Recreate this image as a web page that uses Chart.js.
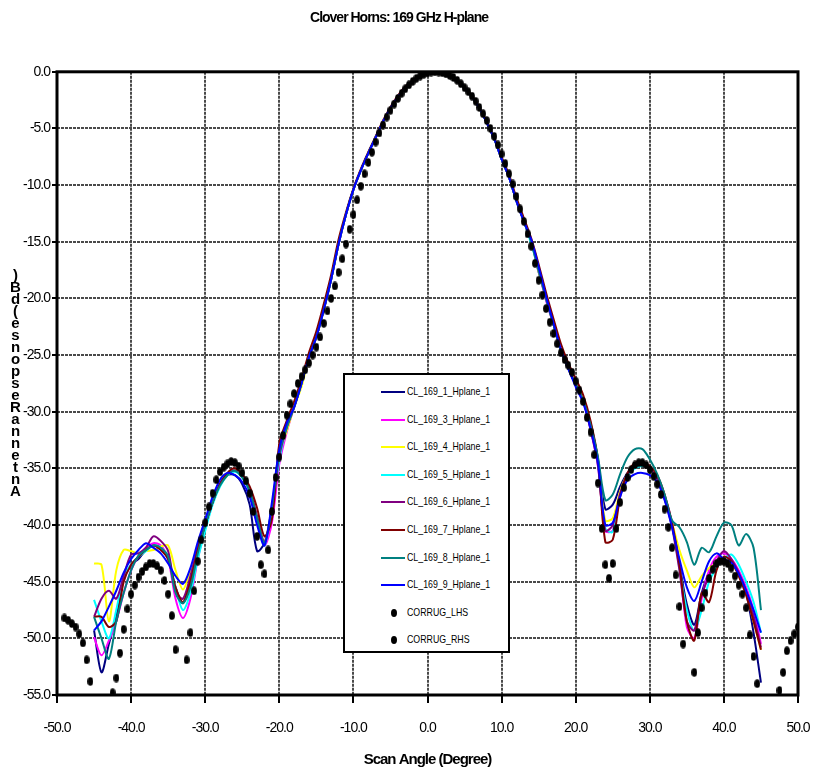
<!DOCTYPE html>
<html>
<head>
<meta charset="utf-8">
<title>Clover Horns: 169 GHz H-plane</title>
<script src="https://cdn.jsdelivr.net/npm/chart.js@4.4.1/dist/chart.umd.min.js"></script>
<style>
  html, body { margin: 0; padding: 0; background: #fff; }
  #wrap { position: relative; width: 815px; height: 775px; }
  #legend {
    position: absolute; left: 343px; top: 373px; width: 167px; height: 280px;
    box-sizing: border-box; border: 2px solid #000; background: #fff;
    font-family: 'Liberation Sans Narrow', 'Arial Narrow', 'Liberation Sans', Arial, sans-serif;
    font-size: 11px; color: #000; padding-top: 3px;
  }
  .item { position: relative; height: 27.6px; }
  .swatch { position: absolute; left: 36px; top: 13px; width: 24px; height: 2px; }
  .dot { position: absolute; left: 46px; top: 10px; width: 6px; height: 8px; border-radius: 50%; background: #000; }
  .label { position: absolute; left: 62px; top: 7px; white-space: nowrap; transform: scaleX(0.8); transform-origin: 0 50%; }
</style>
</head>
<body>
<div id="wrap">
  <canvas id="chart" width="815" height="775"></canvas>
  <div id="legend"></div>
</div>
<script>
const fontFamily = "'Liberation Sans Narrow', 'Arial Narrow', 'Liberation Sans', Arial, sans-serif";

const chartTitle = 'Clover Horns: 169 GHz H-plane';
const xAxisTitle = 'Scan Angle (Degree)';
const yAxisTitle = 'Antenna Response (dB)';

// scan angles of the measured horns (deg)
const scanAngles = [
  -45, -44, -43, -42, -41, -40, -39, -38, -37, -36, -35, -34, -33, -32, -31, -30, -29, -28, -27, -26, -25, -24, -23, -22, -21,
  -20, -19, -18, -17, -16, -15, -14, -13, -12, -11, -10, -9, -8, -7, -6, -5, -4, -3, -2, -1, 0, 1, 2, 3, 4, 5, 6, 7, 8, 9, 10,
  11, 12, 13, 14, 15, 16, 17, 18, 19, 20, 21, 22,
  23, 24, 25, 26, 27, 28, 29, 30, 31, 32, 33, 34, 35, 36, 37, 38, 39, 40, 41, 42, 43, 44, 45
];

const cl1 = [
  -49.3, -53.0, -50.5, -48.0, -44.8, -43.5, -43.0, -42.2, -41.8, -42.0, -43.0, -45.5, -46.9, -45.0, -42.0, -40.0, -38.0, -36.5, -35.6, -35.6, -36.4, -38.2, -42.3, -41.6, -38.5,
  -34.2, -31.4, -29.6, -27.5, -25.2, -23.4, -21.0, -18.3, -15.2, -12.6, -10.4, -8.7, -7.2, -5.8, -4.4, -3.2, -2.2, -1.4, -0.8, -0.35, -0.1, 0, -0.1, -0.35, -0.8, -1.4, -2.2, -3.2, -4.5, -5.9, -7.7,
  -9.3, -11.4, -13.2, -15.0, -17.7, -20.0, -22.3, -24.6, -26.2, -27.6, -29.0, -31.0,
  -34.2, -38.6, -38.2, -36.6, -35.4, -34.9, -34.8, -35.0, -35.9, -37.6, -40.0, -43.5, -47.0, -48.8, -46.0, -44.2, -43.5, -43.3, -43.5, -44.2, -46.0, -49.5, -53.9
];
const cl3 = [
  -49.9, -51.5, -50.2, -48.5, -46.0, -44.0, -42.7, -42.0, -41.6, -41.8, -43.0, -46.5, -48.2, -46.5, -43.0, -40.2, -38.0, -36.4, -35.5, -35.2, -35.7, -37.0, -39.4, -41.8, -39.8,
  -34.6, -31.8, -29.6, -27.5, -25.2, -23.4, -21.0, -18.3, -15.2, -12.6, -10.4, -8.7, -7.2, -5.8, -4.4, -3.2, -2.2, -1.4, -0.8, -0.35, -0.1, 0, -0.1, -0.35, -0.8, -1.4, -2.2, -3.2, -4.5, -5.9, -7.7,
  -9.3, -11.4, -13.2, -15.0, -17.5, -20.2, -22.3, -24.6, -26.2, -27.6, -29.0, -31.5,
  -34.8, -40.5, -40.5, -37.3, -35.6, -34.9, -34.6, -34.9, -35.8, -37.4, -39.8, -43.6, -49.0, -50.0, -46.5, -44.0, -42.8, -42.5, -43.0, -44.0, -45.5, -47.5, -50.5
];
const cl4 = [
  -43.4, -43.5, -48.5, -44.0, -42.2, -42.3, -42.5, -42.3, -42.2, -41.9, -41.8, -44.0, -45.7, -44.0, -42.5, -40.0, -38.0, -36.5, -35.6, -35.2, -35.8, -37.0, -39.4, -41.5, -38.5,
  -33.8, -31.7, -29.6, -27.8, -25.2, -23.4, -21.0, -18.3, -15.2, -12.6, -10.4, -8.7, -7.2, -5.8, -4.4, -3.2, -2.2, -1.4, -0.8, -0.35, -0.1, 0, -0.1, -0.35, -0.8, -1.4, -2.2, -3.2, -4.5, -5.9, -7.7,
  -9.3, -11.4, -13.2, -15.0, -17.6, -20.0, -22.3, -24.6, -26.2, -27.6, -28.8, -31.3,
  -34.5, -39.6, -39.4, -37.0, -35.5, -34.9, -34.7, -35.0, -35.9, -37.6, -39.8, -42.2, -44.0, -45.5, -44.5, -43.8, -43.4, -43.2, -43.5, -44.3, -46.0, -48.5, -51.0
];
const cl5 = [
  -46.6, -48.5, -50.0, -47.5, -44.5, -43.5, -42.8, -42.3, -41.8, -42.0, -42.8, -45.5, -47.5, -46.0, -43.0, -40.5, -38.2, -36.6, -35.6, -35.3, -35.8, -37.0, -39.6, -41.8, -38.5,
  -34.3, -31.4, -29.6, -27.5, -25.2, -23.4, -21.0, -18.3, -15.2, -12.6, -10.4, -8.7, -7.2, -5.8, -4.4, -3.2, -2.2, -1.4, -0.8, -0.35, -0.1, 0, -0.1, -0.35, -0.8, -1.4, -2.2, -3.2, -4.5, -5.9, -7.7,
  -9.3, -11.4, -13.2, -15.2, -17.5, -20.0, -22.3, -24.6, -26.2, -27.6, -29.0, -31.3,
  -34.6, -40.3, -40.6, -37.3, -35.6, -35.0, -34.8, -35.0, -35.8, -37.5, -40.0, -43.8, -47.5, -49.3, -47.5, -45.0, -43.8, -43.0, -42.6, -43.5, -45.0, -46.8, -49.5
];
const cl6 = [
  -48.1, -46.5, -45.8, -46.5, -44.5, -42.6, -42.5, -42.0, -41.0, -41.4, -42.3, -45.8, -46.5, -44.5, -42.0, -40.0, -38.0, -36.3, -35.5, -35.2, -35.7, -36.9, -39.2, -41.5, -38.6,
  -33.9, -31.4, -29.6, -27.5, -25.2, -23.4, -21.0, -18.3, -15.2, -12.6, -10.4, -8.7, -7.2, -5.8, -4.4, -3.2, -2.2, -1.4, -0.8, -0.35, -0.15, 0, -0.1, -0.35, -0.8, -1.4, -2.2, -3.2, -4.5, -5.9, -7.7,
  -9.3, -11.4, -13.2, -15.0, -17.5, -20.0, -22.3, -24.6, -26.2, -27.6, -29.0, -31.6,
  -34.7, -40.5, -40.0, -37.2, -35.5, -34.8, -34.7, -35.0, -35.9, -37.7, -40.2, -44.0, -48.5, -49.3, -46.2, -44.5, -43.2, -42.3, -43.0, -44.2, -45.8, -48.0, -50.8
];
const cl7 = [
  -48.1, -48.1, -49.0, -48.5, -45.0, -43.5, -42.8, -42.2, -41.8, -42.2, -43.0, -45.5, -46.8, -45.0, -42.2, -40.0, -38.0, -36.4, -35.4, -35.0, -35.5, -36.6, -38.5, -41.0, -39.5,
  -32.8, -30.8, -29.1, -27.1, -24.8, -22.9, -20.5, -17.9, -14.8, -12.4, -10.3, -8.6, -7.1, -5.7, -4.3, -3.1, -2.1, -1.3, -0.75, -0.3, -0.1, 0, -0.1, -0.3, -0.75, -1.35, -2.1, -3.1, -4.4, -5.8, -7.5,
  -9.1, -11.1, -12.9, -14.7, -17.0, -19.5, -21.8, -24.0, -25.7, -27.1, -28.5, -30.8,
  -34.2, -41.5, -41.3, -37.5, -35.4, -34.5, -34.4, -34.8, -35.6, -37.3, -39.8, -43.5, -48.5, -50.2, -46.0, -46.8, -44.0, -42.8, -43.2, -44.5, -46.2, -48.5, -51.0
];
const cl8 = [
  -48.1, -50.0, -51.8, -48.5, -46.0, -44.0, -42.7, -42.2, -41.8, -42.0, -42.8, -46.0, -46.9, -45.5, -42.5, -40.0, -38.0, -36.5, -35.6, -35.2, -35.8, -37.0, -39.4, -41.6, -38.4,
  -33.6, -31.4, -29.6, -27.5, -25.2, -23.4, -21.0, -18.3, -15.2, -12.6, -10.4, -8.7, -7.2, -5.8, -4.4, -3.2, -2.2, -1.4, -0.8, -0.35, -0.1, 0, -0.1, -0.35, -0.8, -1.4, -2.2, -3.2, -4.5, -5.9, -7.7,
  -9.3, -11.4, -13.2, -15.0, -17.5, -20.0, -22.3, -24.6, -26.2, -27.6, -29.0, -31.2,
  -34.0, -37.8, -37.3, -35.5, -34.0, -33.3, -33.3, -34.2, -35.5, -37.3, -39.6, -40.2, -41.5, -43.5, -42.0, -42.4, -41.0, -39.8, -40.0, -41.8, -40.8, -42.0, -47.5
];
const cl9 = [
  -49.3, -48.5, -47.2, -45.8, -44.2, -43.0, -42.2, -41.6, -42.0, -42.5, -43.4, -44.5, -45.2, -43.8, -41.5, -39.5, -37.5, -36.0, -35.4, -35.6, -36.2, -37.5, -40.0, -41.8, -38.0,
  -33.3, -31.0, -29.6, -27.5, -25.2, -23.4, -21.0, -18.3, -15.2, -12.6, -10.4, -8.7, -7.2, -5.8, -4.4, -3.2, -2.2, -1.4, -0.8, -0.35, -0.1, 0, -0.1, -0.35, -0.8, -1.4, -2.2, -3.2, -4.5, -5.9, -7.7,
  -9.3, -11.4, -13.2, -14.8, -17.2, -19.8, -22.2, -24.5, -26.2, -27.8, -29.2, -31.5,
  -34.5, -40.0, -39.8, -37.5, -36.0, -35.5, -35.4, -35.6, -36.2, -37.8, -40.2, -43.0, -45.5, -46.7, -45.0, -43.2, -42.5, -43.0, -43.3, -44.3, -45.8, -47.5, -49.5
];

// corrugated horn reference, left-hand side
const corrugLhsAngles = [
  1, 0.5, 0, -0.5, -1, -1.5, -2, -2.5, -3, -3.5, -4, -4.5, -5, -5.5, -6, -6.5, -7, -7.5, -8, -8.5, -9, -9.5, -10, -10.5, -11, -11.5,
  -12, -12.5, -13, -13.5, -14, -14.5, -15, -15.5, -16, -16.5, -17, -17.5, -18, -18.5, -19, -19.5, -20, -20.5, -21, -21.5, -22, -22.5,
  -23, -23.5, -24, -24.5, -25, -25.5, -26, -26.5, -27, -27.5, -28, -28.5, -29, -29.5, -30, -30.5, -31, -31.5, -32, -32.5, -33, -33.5,
  -34, -34.5, -35, -35.5, -36, -36.5, -37, -37.5, -38, -38.5, -39, -39.5, -40, -40.5, -41, -41.5, -42, -42.5, -43, -43.5, -44, -44.5,
  -45, -45.5, -46, -46.5, -47, -47.5, -48, -48.5, -49
];
const corrugLhsDb = [
  0, -0.02, -0.1, -0.22, -0.38, -0.58, -0.85, -1.15, -1.5, -1.9, -2.35, -2.85, -3.4, -4.0, -4.7, -5.4, -6.2, -7.1, -8.0, -9.0, -10.1, -11.3, -12.6, -13.9, -15.2, -16.5,
  -17.7, -18.9, -20.0, -21.1, -22.2, -23.4, -24.3, -25.0, -25.7, -26.3, -26.9, -27.5, -28.4, -29.3, -30.3, -32.1, -34.0, -35.8, -38.8, -42.2, -44.3, -43.5,
  -41.0, -38.8, -37.2, -36.1, -35.4, -34.8, -34.5, -34.4, -34.6, -34.9, -35.3, -36.0, -37.2, -38.4, -39.8, -41.3, -43.2, -45.8, -49.5, -51.9, -57.0, -56.0,
  -51.0, -48.0, -46.1, -44.9, -44.0, -43.6, -43.4, -43.4, -43.7, -44.1, -44.6, -45.3, -46.1, -47.4, -49.2, -51.3, -53.5, -54.8, -58.0, -60.0, -60.0, -58.0,
  -56.0, -53.8, -51.9, -50.4, -49.6, -49.0, -48.7, -48.4, -48.2
];

// corrugated horn reference, right-hand side
const corrugRhsAngles = [
  1.5, 2, 2.5, 3, 3.5, 4, 4.5, 5, 5.5, 6, 6.5, 7, 7.5, 8, 8.5, 9, 9.5, 10, 10.5, 11, 11.5, 12, 12.5, 13, 13.5, 14, 14.5,
  15, 15.5, 16, 16.5, 17, 17.5, 18, 18.5, 19, 19.5, 20, 20.5, 21, 21.5, 22, 22.5, 23, 23.5, 24, 24.5, 25, 25.5,
  26, 26.5, 27, 27.5, 28, 28.5, 29, 29.5, 30, 30.5, 31, 31.5, 32, 32.5, 33, 33.5, 34, 34.5, 35, 35.5, 36, 36.5,
  37, 37.5, 38, 38.5, 39, 39.5, 40, 40.5, 41, 41.5, 42, 42.5, 43, 43.5, 44, 44.5, 45, 45.5, 46, 46.5, 47, 47.5,
  48, 48.5, 49, 49.5, 50
];
const corrugRhsDb = [
  -0.02, -0.08, -0.18, -0.32, -0.5, -0.75, -1.05, -1.4, -1.75, -2.15, -2.6, -3.15, -3.7, -4.3, -5.0, -5.7, -6.45, -7.25, -8.1, -9.0, -9.9, -11.0, -12.1, -13.2, -14.3, -15.4, -16.9,
  -18.4, -19.7, -20.9, -22.1, -23.1, -24.0, -24.8, -25.4, -25.9, -26.5, -27.3, -28.1, -29.1, -30.5, -31.8, -33.8, -36.3, -40.3, -43.5, -44.7, -43.4, -40.3,
  -38.0, -36.7, -35.8, -35.1, -34.7, -34.5, -34.5, -34.7, -35.1, -35.7, -36.4, -37.3, -38.6, -40.2, -42.0, -44.4, -47.2, -50.5, -56.0, -58.0, -53.0, -49.5,
  -47.3, -46.0, -44.7, -43.9, -43.4, -43.2, -43.2, -43.4, -43.8, -44.5, -45.3, -46.1, -47.3, -49.7, -51.6, -54.0, -57.0, -60.0, -60.0, -60.0, -58.0, -54.6,
  -53.0, -51.1, -50.2, -49.6, -49.0
];

const hornSeries = [
  { label: 'CL_169_1_Hplane_1', color: '#000080', values: cl1 },
  { label: 'CL_169_3_Hplane_1', color: '#ff00ff', values: cl3 },
  { label: 'CL_169_4_Hplane_1', color: '#ffff00', values: cl4 },
  { label: 'CL_169_5_Hplane_1', color: '#00ffff', values: cl5 },
  { label: 'CL_169_6_Hplane_1', color: '#800080', values: cl6 },
  { label: 'CL_169_7_Hplane_1', color: '#800000', values: cl7 },
  { label: 'CL_169_8_Hplane_1', color: '#008080', values: cl8 },
  { label: 'CL_169_9_Hplane_1', color: '#0000ff', values: cl9 }
];

// small black ellipse used as the marker of the corrugated horn points
const dotImg = document.createElement('canvas');
dotImg.width = 6;
dotImg.height = 9;
(function () {
  const c = dotImg.getContext('2d');
  c.fillStyle = '#000';
  c.beginPath();
  c.ellipse(3, 4.5, 2.9, 4.3, 0, 0, Math.PI * 2);
  c.fill();
})();

function toPoints(xs, ys) {
  return xs.map((x, i) => ({ x: x, y: ys[i] }));
}

const datasets = hornSeries.map((s, i) => ({
  label: s.label,
  data: toPoints(scanAngles, s.values),
  showLine: true,
  borderColor: s.color,
  backgroundColor: s.color,
  borderWidth: 2,
  pointRadius: 0,
  tension: 0.3,
  order: 20 - i
}));
datasets.push({
  label: 'CORRUG_LHS',
  data: toPoints(corrugLhsAngles, corrugLhsDb),
  showLine: false,
  pointStyle: dotImg,
  pointRadius: 4,
  order: 2
});
datasets.push({
  label: 'CORRUG_RHS',
  data: toPoints(corrugRhsAngles, corrugRhsDb),
  showLine: false,
  pointStyle: dotImg,
  pointRadius: 4,
  order: 1
});

// squeeze the canvas text a little, like the narrow font of the original
const tightText = {
  id: 'tightText',
  beforeUpdate(chart) { chart.ctx.letterSpacing = '-1px'; },
  beforeDraw(chart) { chart.ctx.letterSpacing = '-1px'; }
};

// thick black box round the plot area
const framePlugin = {
  id: 'plotFrame',
  afterDatasetsDraw(chart) {
    const { ctx, chartArea: { left, top, right, bottom } } = chart;
    ctx.save();
    ctx.lineWidth = 3;
    ctx.strokeStyle = '#000';
    ctx.strokeRect(left, top, right - left, bottom - top);
    ctx.restore();
  }
};

// the y title is written as upright letters stacked from bottom to top
const stackedTitlePlugin = {
  id: 'stackedYTitle',
  afterDraw(chart) {
    const { ctx, chartArea } = chart;
    const chars = yAxisTitle.replace(/ /g, '').split('');
    const step = 12;
    const mid = (chartArea.top + chartArea.bottom) / 2;
    const start = mid + (chars.length - 1) / 2 * step;
    ctx.save();
    ctx.font = 'bold 15px ' + fontFamily;
    ctx.fillStyle = '#000';
    ctx.textAlign = 'center';
    ctx.textBaseline = 'middle';
    chars.forEach((ch, i) => ctx.fillText(ch, 15, start - i * step));
    ctx.restore();
  }
};

const ctx = document.getElementById('chart').getContext('2d');
const chart = new Chart(ctx, {
  type: 'scatter',
  data: { datasets: datasets },
  options: {
    responsive: false,
    animation: false,
    layout: { padding: { left: 0, right: 17, top: 0, bottom: 0 } },
    plugins: {
      legend: { display: false },
      tooltip: { enabled: false },
      title: {
        display: true,
        text: chartTitle,
        color: '#000',
        font: { family: fontFamily, size: 14, weight: 'bold' },
        padding: { top: 10, bottom: 45 }
      }
    },
    scales: {
      x: {
        type: 'linear',
        min: -50,
        max: 50,
        afterFit(scale) {
          scale.height = 80;
          scale.paddingLeft = 0;
          scale.paddingRight = 0;
        },
        ticks: {
          stepSize: 10,
          autoSkip: false,
          maxRotation: 0,
          padding: 17,
          color: '#000',
          font: { family: fontFamily, size: 14 },
          callback: v => v.toFixed(1)
        },
        grid: {
          color: '#4a4a4a',
          lineWidth: 2,
          tickLength: 8,
          tickColor: '#000',
          tickWidth: 2,
          tickBorderDash: []
        },
        border: { display: false, dash: [3, 1] },
        title: {
          display: true,
          text: xAxisTitle,
          color: '#000',
          font: { family: fontFamily, size: 15, weight: 'bold' },
          padding: { top: 0, bottom: 6 }
        }
      },
      y: {
        type: 'linear',
        min: -55,
        max: 0,
        afterFit(scale) {
          scale.width = 57;
          scale.paddingTop = 0;
          scale.paddingBottom = 0;
        },
        ticks: {
          stepSize: 5,
          autoSkip: false,
          padding: 2,
          color: '#000',
          font: { family: fontFamily, size: 14 },
          callback: v => v.toFixed(1)
        },
        grid: {
          color: '#4a4a4a',
          lineWidth: 2,
          tickLength: 5,
          tickColor: '#000',
          tickWidth: 2,
          tickBorderDash: []
        },
        border: { display: false, dash: [3, 1] }
      }
    }
  },
  plugins: [tightText, framePlugin, stackedTitlePlugin]
});

// legend box drawn over the plot, in dataset order
const legendEl = document.getElementById('legend');
chart.data.datasets.forEach(ds => {
  const item = document.createElement('div');
  item.className = 'item';
  const mark = document.createElement('span');
  if (ds.showLine) {
    mark.className = 'swatch';
    mark.style.background = ds.borderColor;
  } else {
    mark.className = 'dot';
  }
  const text = document.createElement('span');
  text.className = 'label';
  text.textContent = ds.label;
  item.appendChild(mark);
  item.appendChild(text);
  legendEl.appendChild(item);
});
</script>
</body>
</html>
